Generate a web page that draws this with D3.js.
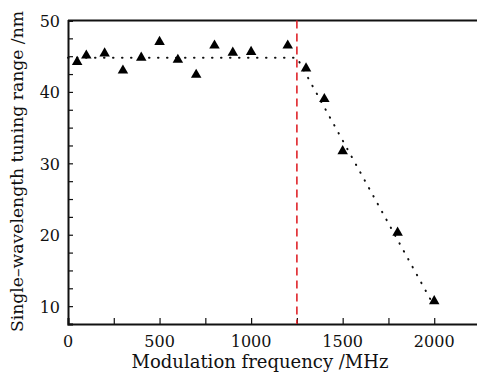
<!DOCTYPE html>
<html>
<head>
<meta charset="utf-8">
<script src="https://cdn.jsdelivr.net/npm/d3@7"></script>
<style>
  body { margin: 0; background: #fff; }
  text { font-family: "DejaVu Serif", serif; fill: #111; }
</style>
</head>
<body>
<div id="vis"></div>
<script>
// measured points
const freq = [50, 100, 200, 300, 400, 500, 600, 700, 800, 900, 1000, 1200, 1300, 1400, 1500, 1800, 2000];
const range = [44.2, 45.1, 45.4, 43.0, 44.8, 47.0, 44.5, 42.4, 46.5, 45.5, 45.6, 46.5, 43.3, 39.0, 31.7, 20.3, 10.7];

// fitted trend (dotted)
const fitX = [0, 1250, 2000];
const fitY = [44.8, 44.8, 10.0];

// cutoff marker
const cutoff = 1250;

const xTicks = [0, 500, 1000, 1500, 2000];
const yTicks = [10, 20, 30, 40, 50];

let W = 477, H = 377;
let margin = {top: 20.5, left: 68, right: -3, bottom: 53};

let svg = d3.select('#vis')
  .append('svg')
  .attr('width', W)
  .attr('height', H)
  .style('background-color', 'white');

let x = d3.scaleLinear().domain([0, 2250]).range([margin.left, W - margin.right]);
let y = d3.scaleLinear().domain([7.5, 50]).range([H - margin.bottom, margin.top]);

// x axis (ticks point inward)
let xAxis = svg.append('g')
  .attr('transform', `translate(0,${y(7.5)})`)
  .call(d3.axisBottom(x).tickValues(d3.range(0, 2251, 250)).tickSize(-6).tickFormat(''));
xAxis.selectAll('.tick line').attr('stroke', '#111').attr('stroke-width', 1.2);
xAxis.select('.domain').attr('stroke', '#111').attr('stroke-width', 2);

svg.selectAll('.xlab')
  .data(xTicks)
  .enter().append('text')
  .attr('x', d => x(d))
  .attr('y', y(7.5) + 23)
  .attr('text-anchor', 'middle')
  .attr('font-size', 16)
  .text(d => d);

// y axis
let yAxis = svg.append('g')
  .attr('transform', `translate(${x(0)},0)`)
  .call(d3.axisLeft(y).tickValues(d3.range(7.5, 50.1, 2.5)).tickSize(-5).tickFormat(''));
yAxis.selectAll('.tick line').attr('stroke', '#111').attr('stroke-width', 1.2);
yAxis.select('.domain').attr('stroke', '#111').attr('stroke-width', 2);

svg.selectAll('.ylab')
  .data(yTicks)
  .enter().append('text')
  .attr('x', x(0) - 8)
  .attr('y', d => y(d) + 6.5)
  .attr('text-anchor', 'end')
  .attr('font-size', 16)
  .text(d => d);

// top frame line
svg.append('line')
  .attr('x1', x(0)).attr('x2', W)
  .attr('y1', y(50)).attr('y2', y(50))
  .attr('stroke', '#111').attr('stroke-width', 2);

// dotted trend
let line = d3.line().x((d, i) => x(d)).y((d, i) => y(fitY[i]));
svg.append('path')
  .attr('d', line(fitX))
  .attr('fill', 'none')
  .attr('stroke', '#111')
  .attr('stroke-width', 2)
  .attr('stroke-linecap', 'round')
  .attr('stroke-dasharray', '0.5,8.5');

// red dashed cutoff
svg.append('line')
  .attr('x1', x(cutoff)).attr('x2', x(cutoff))
  .attr('y1', y(50)).attr('y2', y(7.5))
  .attr('stroke', '#e0242a')
  .attr('stroke-width', 1.6)
  .attr('stroke-dasharray', '8,5');

// triangles
svg.selectAll('.pt')
  .data(freq)
  .enter().append('path')
  .attr('d', d3.symbol().type(d3.symbolTriangle).size(48))
  .attr('transform', (d, i) => `translate(${x(d)},${y(range[i])})`)
  .attr('fill', '#000');

// axis titles
svg.append('text')
  .attr('x', 260)
  .attr('y', 368)
  .attr('text-anchor', 'middle')
  .attr('font-size', 18)
  .text('Modulation frequency /MHz');

svg.append('text')
  .attr('transform', `translate(23,171.5) rotate(-90)`)
  .attr('text-anchor', 'middle')
  .attr('font-size', 17.2)
  .text('Single\u2013wavelength tuning range /nm');
</script>
</body>
</html>
